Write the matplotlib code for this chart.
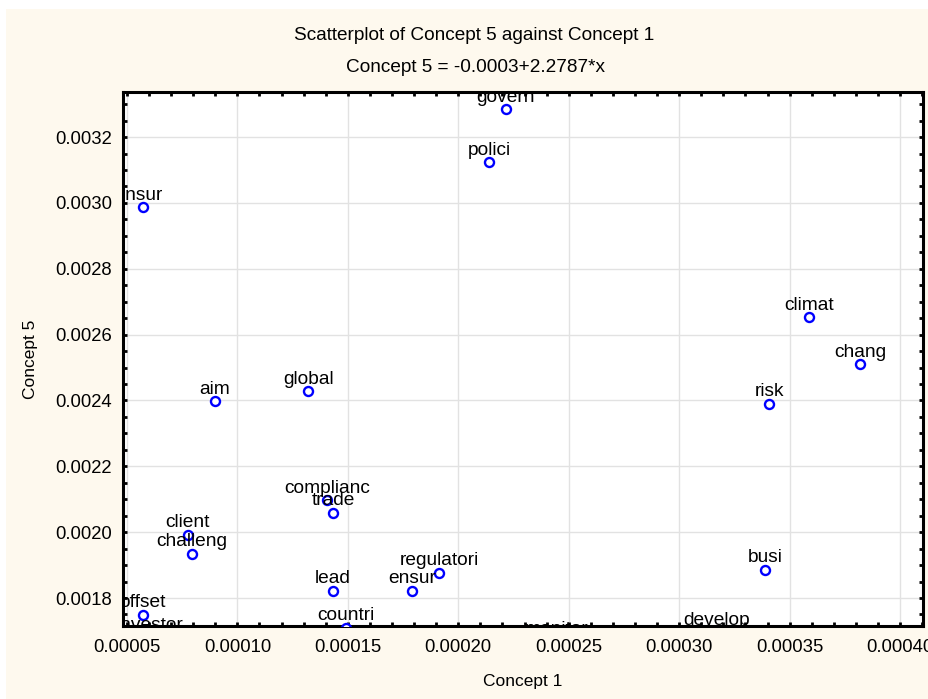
import numpy as np
import matplotlib
matplotlib.use("Agg")
import matplotlib.pyplot as plt
from matplotlib.patches import Rectangle
from matplotlib.ticker import MultipleLocator, FormatStrFormatter
from matplotlib.transforms import offset_copy

plt.rcParams['font.family'] = ['Liberation Sans', 'DejaVu Sans']

# terms and their loadings on concept 1 (x) and concept 5 (y)
words = ['govern', 'polici', 'insur', 'climat', 'chang', 'risk', 'global',
         'aim', 'complianc', 'trade', 'client', 'challeng', 'lead', 'ensur',
         'regulatori', 'busi', 'offset', 'countri', 'investor', 'develop',
         'monitor']
concept1 = [0.0002216, 0.0002139, 0.0000572, 0.0003589, 0.0003820, 0.0003408,
            0.0001320, 0.0000899, 0.0001406, 0.0001433, 0.0000776, 0.0000794,
            0.0001433, 0.0001790, 0.0001913, 0.0003390, 0.0000572, 0.0001492,
            0.0000604, 0.0003170, 0.0002443]
concept5 = [0.003284, 0.003123, 0.002987, 0.002653, 0.002510, 0.002389,
            0.002428, 0.002398, 0.002097, 0.002058, 0.001991, 0.001934,
            0.001821, 0.001821, 0.001876, 0.001885, 0.001748, 0.001709,
            0.001679, 0.001694, 0.001669]

title1 = 'Scatterplot of Concept 5 against Concept 1'
title2 = 'Concept 5 = -0.0003+2.2787*x'

cream = '#fef9ee'
xmin, xmax = 0.0000482, 0.0004104
ymin, ymax = 0.001715, 0.003337

fig = plt.figure(figsize=(9.29, 6.99), dpi=100, facecolor='white')
fig.patches.append(Rectangle((6 / 929, 0), 1, 690 / 699, transform=fig.transFigure,
                             facecolor=cream, edgecolor='none', zorder=-10))

ax = fig.add_axes([123 / 929, 73 / 699, 800 / 929, 534 / 699])
ax.set_facecolor('white')

ax.plot(concept1, concept5, linestyle='none', marker='o', markersize=6.5,
        markerfacecolor='white', markeredgecolor='#0000ff', markeredgewidth=1.7,
        zorder=3)

lbl_trans = offset_copy(ax.transData, fig=fig, y=5.5, units='points')
for w, x, y in zip(words, concept1, concept5):
    # only the labels of points at the bottom edge get cut by the axes
    ax.text(x, y, w, transform=lbl_trans, ha='center', va='baseline',
            fontsize=13.8, color='black', clip_on=(y < 0.00176), zorder=4)

ax.set_xlim(xmin, xmax)
ax.set_ylim(ymin, ymax)

ax.xaxis.set_major_locator(MultipleLocator(0.00005))
ax.xaxis.set_minor_locator(MultipleLocator(0.00001))
ax.yaxis.set_major_locator(MultipleLocator(0.0002))
ax.yaxis.set_minor_locator(MultipleLocator(0.00005))
ax.xaxis.set_major_formatter(FormatStrFormatter('%.5f'))
ax.yaxis.set_major_formatter(FormatStrFormatter('%.4f'))

ax.tick_params(which='both', direction='in', top=True, right=True,
               length=3, width=2, color='black', labelsize=13.3)
ax.tick_params(axis='x', which='major', pad=9)
ax.tick_params(axis='y', which='major', pad=8)

ax.grid(True, which='major', color='#e2e2e2', linewidth=1)
ax.set_axisbelow(True)
for s in ax.spines.values():
    s.set_linewidth(2.2)
    s.set_color('black')

ax.set_xlabel('Concept 1', fontsize=12.5, labelpad=13)
ax.set_ylabel('Concept 5', fontsize=12.5, labelpad=12)

fig.text(474 / 929, 1 - 35 / 699, title1, ha='center', va='center', fontsize=13.7)
fig.text(476 / 929, 1 - 68 / 699, title2, ha='center', va='center', fontsize=13.7)

fig.savefig('out.png', dpi=100, facecolor=fig.get_facecolor())
